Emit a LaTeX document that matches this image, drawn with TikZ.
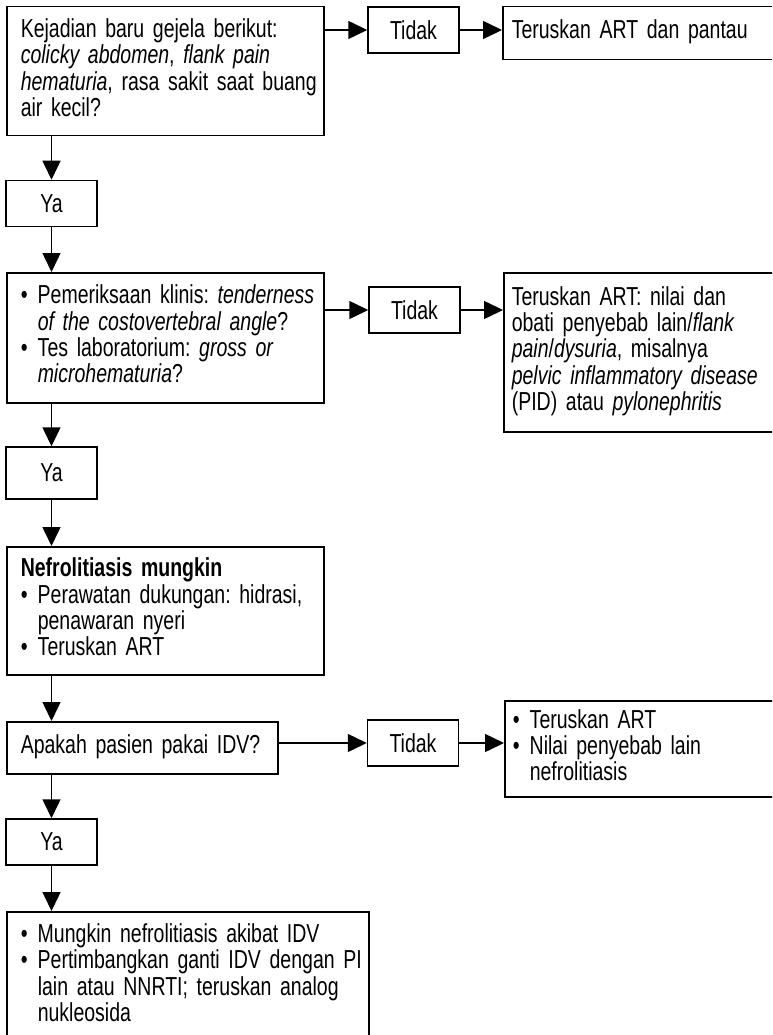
\documentclass[tikz,border=0pt]{standalone}
\usepackage{fontspec}
\setmainfont{Liberation Sans}[FakeStretch=0.75,WordSpace=0.75]
\usetikzlibrary{arrows.meta}
\frenchspacing
\newcommand{\blt}{\makebox[17pt][l]{\textbullet}}
\newcommand{\ind}{\hspace*{17pt}}
\newcommand{\lines}[1]{\begin{tabular}{@{}l@{}}#1\end{tabular}}
\begin{document}
\begin{tikzpicture}[x=1pt,y=-1pt,>={Triangle[length=19pt,width=18pt]},line width=1.5pt,
	every node/.style={font=\fontsize{26}{25}\selectfont},
	box/.style={draw,anchor=north west,align=left,inner xsep=14pt,inner ysep=0pt},
	small/.style={draw,minimum width=91pt,minimum height=46pt,inner sep=0pt}]
\clip (0,0) rectangle (772,1035);
% left column
\node[box,text width=289pt,minimum height=129pt] (q1) at (6,6) {\lines{Kejadian baru gejela berikut:\\
	\textit{colicky abdomen}, \textit{flank pain}\\
	\textit{hematuria}, rasa sakit saat buang\\
	air kecil?}};
\node[small] (y1) at (51.5,203.5) {Ya};
\node[box,text width=289pt,minimum height=130pt] (q2) at (6,272) {\lines{\blt Pemeriksaan klinis: \textit{tenderness}\\
	\ind\textit{of the costovertebral angle}?\\
	\blt Tes laboratorium: \textit{gross or}\\
	\ind\textit{microhematuria}?}};
\node[small,minimum height=52pt] (y2) at (51.5,473) {Ya};
\node[box,text width=289pt,minimum height=128pt] (s3) at (6,546) {\lines{\textbf{Nefrolitiasis mungkin}\\
	\blt Perawatan dukungan: hidrasi,\\
	\ind penawaran nyeri\\
	\blt Teruskan ART}};
\node[box,text width=243pt,minimum height=52pt] (q4) at (6,721) {\lines{Apakah pasien pakai IDV?}};
\node[small] (y3) at (51.5,842) {Ya};
\node[box,text width=334pt,minimum height=129pt] (s5) at (6,911) {\lines{\blt Mungkin nefrolitiasis akibat IDV\\
	\blt Pertimbangkan ganti IDV dengan PI\\
	\ind lain atau NNRTI; teruskan analog\\
	\ind nukleosida}};
% Tidak column
\node[small] (t1) at (413.5,30) {Tidak};
\node[small] (t2) at (414.5,310) {Tidak};
\node[small] (t3) at (413,743) {Tidak};
% right column
\node[box,inner xsep=9pt,text width=276pt,minimum height=53pt] (r1) at (502,6) {\lines{Teruskan ART dan pantau}};
\node[box,inner xsep=8pt,text width=276pt,minimum height=159pt] (r2) at (503,272) {\lines{Teruskan ART: nilai dan\\
	obati penyebab lain/\textit{flank}\\
	\textit{pain}/\textit{dysuria}, misalnya\\
	\textit{pelvic inflammatory disease}\\
	(PID) atau \textit{pylonephritis}}};
\node[box,inner xsep=8pt,text width=276pt,minimum height=96pt] (r3) at (504,700) {\lines{\blt Teruskan ART\\
	\blt Nilai penyebab lain\\
	\ind nefrolitiasis}};
% arrows down
\draw[->] (q1.south -| y1) -- (y1);
\draw[->] (y1) -- (y1 |- q2.north);
\draw[->] (q2.south -| y2) -- (y2);
\draw[->] (y2) -- (y2 |- s3.north);
\draw[->] (s3.south -| y1) -- (y1 |- q4.north);
\draw[->] (q4.south -| y3) -- (y3);
\draw[->] (y3) -- (y3 |- s5.north);
% arrows right
\draw[->] (q1.east |- t1) -- (t1);
\draw[->] (t1) -- (r1.west |- t1);
\draw[->] (q2.east |- t2) -- (t2);
\draw[->] (t2) -- (r2.west |- t2);
\draw[->] (q4.east |- t3) -- (t3);
\draw[->] (t3) -- (r3.west |- t3);
\end{tikzpicture}
\end{document}
